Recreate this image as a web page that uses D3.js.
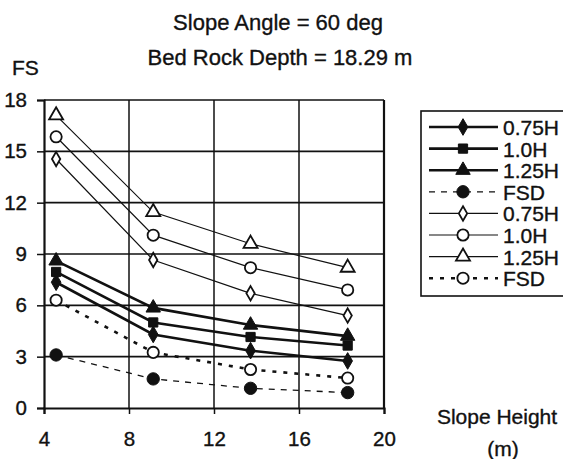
<!doctype html>
<html>
<head>
<style>
  body { margin: 0; background: #fff; }
  svg text { font-family: "Liberation Sans", Arial, sans-serif; fill: #111; stroke: #111; stroke-width: 0.35px; }
</style>
<script src="https://d3js.org/d3.v7.min.js"></script>
</head>
<body>
<svg width="563" height="459"></svg>
<script>
// slope height (m) at which FS was computed
var heights = [4.57, 9.14, 13.72, 18.29];
var xTicks = [4, 8, 12, 16, 20];
var yTicks = [0, 3, 6, 9, 12, 15, 18];

var seriesNames = ["0.75H", "1.0H", "1.25H", "FSD", "0.75H", "1.0H", "1.25H", "FSD"];
var fs075 = [7.35, 4.3, 3.35, 2.75];
var fs100 = [7.95, 5.0, 4.15, 3.65];
var fs125 = [8.6, 5.85, 4.85, 4.2];
var fsd = [3.1, 1.7, 1.15, 0.9];
var fs075b = [14.55, 8.65, 6.7, 5.4];
var fs100b = [15.85, 10.1, 8.2, 6.9];
var fs125b = [17.1, 11.45, 9.6, 8.2];
var fsdb = [6.3, 3.25, 2.25, 1.75];

var svg = d3.select("svg");
var x = d3.scaleLinear().domain([4, 20]).range([44, 384]);
var y = d3.scaleLinear().domain([0, 18]).range([408, 100]);

// styles per series: marker shape, filled?, line width, dash
var styles = [
  {sym: d3.symbolDiamond, size: 80, fill: true, w: 2.6, dash: null},
  {sym: d3.symbolSquare, size: 85, fill: true, w: 2.6, dash: null},
  {sym: d3.symbolTriangle, size: 90, fill: true, w: 2.6, dash: null},
  {sym: d3.symbolCircle, size: 120, fill: true, w: 1.3, dash: "6,6"},
  {sym: d3.symbolDiamond, size: 60, fill: false, w: 1.2, dash: null},
  {sym: d3.symbolCircle, size: 100, fill: false, w: 1.2, dash: null},
  {sym: d3.symbolTriangle, size: 85, fill: false, w: 1.2, dash: null},
  {sym: d3.symbolCircle, size: 100, fill: false, w: 2.6, dash: "4,7"}
];
var allSeries = [fs075, fs100, fs125, fsd, fs075b, fs100b, fs125b, fsdb];

// titles
svg.append("text").attr("x", 278).attr("y", 30).attr("text-anchor", "middle")
   .attr("font-size", "22px").text("Slope Angle = 60 deg");
svg.append("text").attr("x", 280).attr("y", 65).attr("text-anchor", "middle")
   .attr("font-size", "22px").text("Bed Rock Depth = 18.29 m");
svg.append("text").attr("x", 12).attr("y", 75).attr("font-size", "21px").text("FS");
svg.append("text").attr("x", 497).attr("y", 424).attr("text-anchor", "middle")
   .attr("font-size", "21px").text("Slope Height");
svg.append("text").attr("x", 503).attr("y", 456).attr("text-anchor", "middle")
   .attr("font-size", "21px").text("(m)");

// grid
var g = svg.append("g");
g.selectAll(".hg").data(yTicks.slice(1)).enter().append("line")
  .attr("x1", x(4)).attr("x2", x(20))
  .attr("y1", function(d) { return y(d); }).attr("y2", function(d) { return y(d); })
  .attr("stroke", "#111").attr("stroke-width", 1.6);
g.selectAll(".vg").data(xTicks.slice(1)).enter().append("line")
  .attr("y1", y(0)).attr("y2", y(18))
  .attr("x1", function(d) { return x(d); }).attr("x2", function(d) { return x(d); })
  .attr("stroke", "#111").attr("stroke-width", function(d) { return d == 20 ? 2.2 : 1.5; });

// axes
var ya = svg.append("g").attr("transform", "translate(" + x(4) + ",0)")
  .call(d3.axisLeft(y).tickValues(yTicks).tickSize(7).tickPadding(10));
var xa = svg.append("g").attr("transform", "translate(0," + y(0) + ")")
  .call(d3.axisBottom(x).tickValues(xTicks).tickSize(6).tickPadding(17));
[ya, xa].forEach(function(a) {
  a.select(".domain").attr("stroke", "#111").attr("stroke-width", 2.2);
  a.selectAll(".tick line").attr("stroke", "#111").attr("stroke-width", 1.5);
  a.selectAll(".tick text").attr("font-size", "20.5px")
   .attr("font-family", "Liberation Sans, Arial, sans-serif").attr("fill", "#111");
});

// series
var line = d3.line().x(function(d) { return x(d[0]); }).y(function(d) { return y(d[1]); });
allSeries.forEach(function(vals, i) {
  var s = styles[i];
  var pts = heights.map(function(h, j) { return [h, vals[j]]; });
  svg.append("path").datum(pts).attr("d", line).attr("fill", "none")
     .attr("stroke", "#111").attr("stroke-width", s.w)
     .attr("stroke-dasharray", s.dash);
  svg.selectAll(".m" + i).data(pts).enter().append("path")
     .attr("transform", function(d) { return "translate(" + x(d[0]) + "," + y(d[1]) + ")"; })
     .attr("d", d3.symbol().type(s.sym).size(s.size))
     .attr("fill", s.fill ? "#111" : "#fff")
     .attr("stroke", "#111").attr("stroke-width", s.fill ? 1 : 1.8);
});

// legend
var lg = svg.append("g");
lg.append("rect").attr("x", 421).attr("y", 111).attr("width", 160).attr("height", 185)
  .attr("fill", "#fff").attr("stroke", "#111").attr("stroke-width", 1.6);
seriesNames.forEach(function(name, i) {
  var s = styles[i];
  var yy = 127 + i * 21.6;
  lg.append("line").attr("x1", 429).attr("x2", 498).attr("y1", yy).attr("y2", yy)
    .attr("stroke", "#111").attr("stroke-width", s.w).attr("stroke-dasharray", s.dash);
  lg.append("path").attr("transform", "translate(463," + yy + ")")
    .attr("d", d3.symbol().type(s.sym).size(s.size))
    .attr("fill", s.fill ? "#111" : "#fff")
    .attr("stroke", "#111").attr("stroke-width", s.fill ? 1 : 1.8);
  lg.append("text").attr("x", 503).attr("y", yy + 8).attr("font-size", "21px").text(name);
});
</script>
</body>
</html>
